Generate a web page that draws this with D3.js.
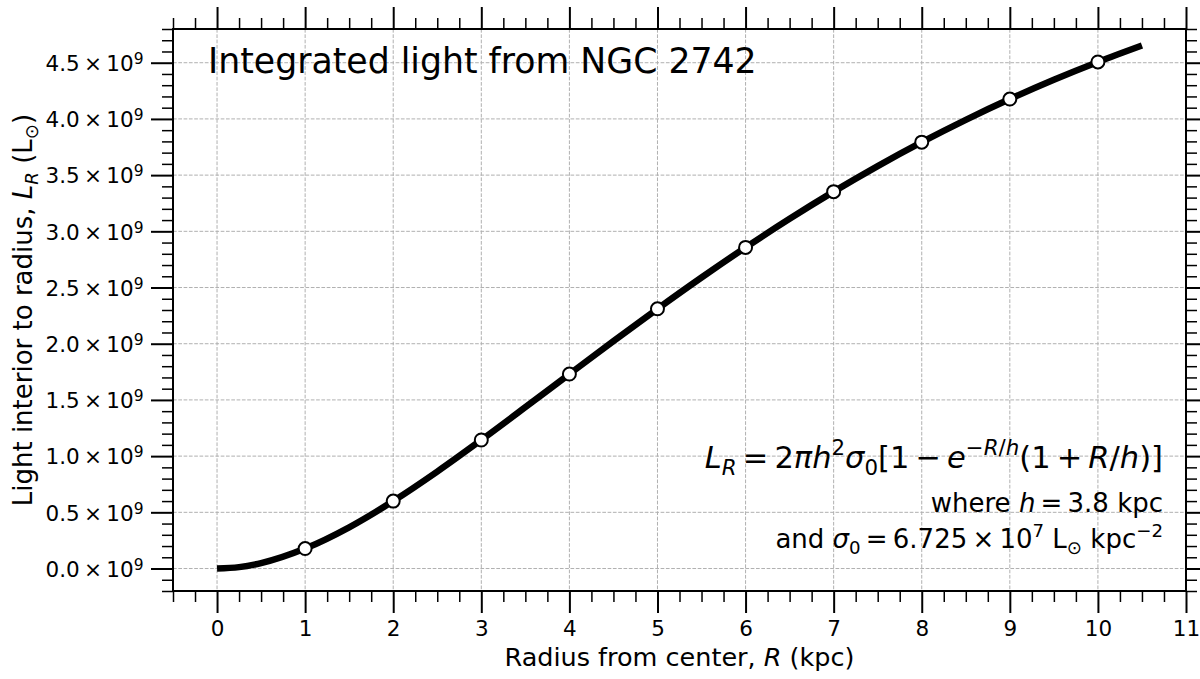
<!DOCTYPE html>
<html>
<head>
<meta charset="utf-8">
<script src="https://cdn.jsdelivr.net/npm/d3@7"></script>
<style>
  body { margin: 0; background: #fff; }
  text { font-family: "DejaVu Sans", sans-serif; }
</style>
</head>
<body>
<svg id="chart" width="1200" height="679"></svg>
<script>
// values (kpc, solar luminosities)
const radius = [0, 0.25, 0.5, 1, 1.5, 2, 2.5, 3, 3.5, 4, 4.5, 5, 5.5, 6, 6.5, 7, 7.5, 8, 8.5, 9, 9.5, 10, 10.5];
const light = [0, 0.0126e9, 0.0484e9, 0.1776e9, 0.3667e9, 0.5997e9, 0.8621e9, 1.1435e9, 1.4351e9, 1.7302e9,
  2.0234e9, 2.3108e9, 2.5892e9, 2.8567e9, 3.1115e9, 3.3529e9, 3.5802e9, 3.7932e9, 3.992e9,
  4.1769e9, 4.3485e9, 4.5068e9, 4.6528e9];

// open circles at whole kpc
const markRadius = [1, 2, 3, 4, 5, 6, 7, 8, 9, 10];
const markLight = [0.1776e9, 0.5997e9, 1.1435e9, 1.7302e9, 2.3108e9, 2.8567e9, 3.3529e9, 3.7932e9, 4.1769e9, 4.5068e9];

const xTicks = [0, 1, 2, 3, 4, 5, 6, 7, 8, 9, 10, 11];
const yTicks = [0, 0.5e9, 1e9, 1.5e9, 2e9, 2.5e9, 3e9, 3.5e9, 4e9, 4.5e9];

const m = { left: 173, right: 1186, top: 29, bottom: 591 };

const svg = d3.select("#chart");

const x = d3.scaleLinear().domain([-0.5, 11]).range([m.left, m.right]);
const y = d3.scaleLinear().domain([-0.2e9, 4.8e9]).range([m.bottom, m.top]);

const xMinor = d3.range(-0.5, 11.001, 0.25).filter((v) => Math.abs(v - Math.round(v)) > 0.01);
const yMinor = d3.range(-2, 48.01, 1).filter((v) => v % 5 !== 0).map((v) => v * 1e8);

// grid
const grid = svg.append("g").attr("stroke", "#b0b0b0").attr("stroke-width", 1).attr("stroke-dasharray", "3.7,1.6");
grid.selectAll(".gx").data(xTicks).join("line")
  .attr("x1", (d) => x(d)).attr("x2", (d) => x(d))
  .attr("y1", m.top).attr("y2", m.bottom);
grid.selectAll(".gy").data(yTicks).join("line")
  .attr("x1", m.left).attr("x2", m.right)
  .attr("y1", (d) => y(d)).attr("y2", (d) => y(d));

function styleAxis(g, w) {
  g.select(".domain").remove();
  g.selectAll(".tick line").attr("stroke", "#000").attr("stroke-width", w);
  g.selectAll("text").attr("fill", "#000");
}

// minor ticks on all four sides
[[d3.axisBottom(x), `translate(0,${m.bottom})`, xMinor],
 [d3.axisTop(x), `translate(0,${m.top})`, xMinor],
 [d3.axisLeft(y), `translate(${m.left},0)`, yMinor],
 [d3.axisRight(y), `translate(${m.right},0)`, yMinor]].forEach(([ax, tr, vals]) => {
  svg.append("g").attr("transform", tr)
    .call(ax.tickValues(vals).tickSize(11).tickFormat(""))
    .call((g) => styleAxis(g, 1.5));
});

// major ticks
svg.append("g").attr("transform", `translate(0,${m.bottom})`)
  .call(d3.axisBottom(x).tickValues(xTicks).tickSize(22).tickPadding(8).tickFormat(d3.format("d")))
  .call((g) => styleAxis(g, 2))
  .call((g) => g.selectAll("text").attr("font-size", 21.5));
svg.append("g").attr("transform", `translate(0,${m.top})`)
  .call(d3.axisTop(x).tickValues(xTicks).tickSize(22).tickFormat(""))
  .call((g) => styleAxis(g, 2));
svg.append("g").attr("transform", `translate(${m.right},0)`)
  .call(d3.axisRight(y).tickValues(yTicks).tickSize(22).tickFormat(""))
  .call((g) => styleAxis(g, 2));

const yAxis = svg.append("g").attr("transform", `translate(${m.left},0)`)
  .call(d3.axisLeft(y).tickValues(yTicks).tickSize(22).tickPadding(7.5).tickFormat(""))
  .call((g) => styleAxis(g, 2));
yAxis.selectAll(".tick text").each(function (d) {
  const t = d3.select(this).attr("font-size", 21.5).attr("dy", "0.36em");
  t.append("tspan").text(d3.format(".1f")(d / 1e9) + "\u2009×\u200910");
  t.append("tspan").attr("dy", "-0.45em").attr("font-size", "72%").text("9");
});

// frame
svg.append("rect")
  .attr("x", m.left).attr("y", m.top)
  .attr("width", m.right - m.left).attr("height", m.bottom - m.top)
  .attr("fill", "none").attr("stroke", "#000").attr("stroke-width", 2);

// curve
const line = d3.line().x((d, i) => x(radius[i])).y((d) => y(d)).curve(d3.curveMonotoneX);
svg.append("path")
  .datum(light)
  .attr("d", line)
  .attr("fill", "none")
  .attr("stroke", "#000")
  .attr("stroke-width", 6.5);

svg.append("g").selectAll("circle")
  .data(markLight)
  .join("circle")
  .attr("cx", (d, i) => x(markRadius[i]))
  .attr("cy", (d) => y(d))
  .attr("r", 6.5)
  .attr("fill", "#fff")
  .attr("stroke", "#000")
  .attr("stroke-width", 2);

// text with math-like sub/superscripts
function rich(t, fs, parts) {
  let cur = 0;
  parts.forEach(([s, o = {}]) => {
    const target = o.sub ? 0.22 * fs : o.sup ? -0.42 * fs : 0;
    const sp = t.append("tspan").attr("dy", target - cur).text(s);
    cur = target;
    if (o.sub || o.sup) sp.attr("font-size", fs * 0.7);
    if (o.i) sp.attr("font-style", "italic");
  });
  return t;
}

svg.append("text")
  .attr("x", 208).attr("y", 73)
  .attr("font-size", 34.7)
  .text("Integrated light from NGC 2742");

rich(svg.append("text").attr("x", (m.left + m.right) / 2).attr("y", 666)
  .attr("text-anchor", "middle").attr("font-size", 25.5), 25.5, [
  ["Radius from center, "], ["R", { i: true }], [" (kpc)"]
]);

rich(svg.append("text")
  .attr("transform", `translate(32,${(m.top + m.bottom) / 2}) rotate(-90)`)
  .attr("text-anchor", "middle").attr("font-size", 26), 26, [
  ["Light interior to radius, "], ["L", { i: true }], ["R", { i: true, sub: true }],
  [" (L"], ["\u2299", { sub: true }], [")"]
]);

const fx = 1163;
rich(svg.append("text").attr("x", fx).attr("y", 468).attr("text-anchor", "end").attr("font-size", 30.5), 30.5, [
  ["L", { i: true }], ["R", { i: true, sub: true }], ["\u2009=\u20092"], ["πh", { i: true }], ["2", { sup: true }],
  ["σ", { i: true }], ["0", { sub: true }], ["[1\u2009−\u2009"], ["e", { i: true }],
  ["−", { sup: true }], ["R", { sup: true, i: true }], ["/", { sup: true }], ["h", { sup: true, i: true }],
  ["(1\u2009+\u2009"], ["R", { i: true }], ["/"], ["h", { i: true }], [")]"]
]);
rich(svg.append("text").attr("x", fx).attr("y", 512).attr("text-anchor", "end").attr("font-size", 26), 26, [
  ["where "], ["h", { i: true }], ["\u2009=\u20093.8 kpc"]
]);
rich(svg.append("text").attr("x", fx).attr("y", 548).attr("text-anchor", "end").attr("font-size", 26), 26, [
  ["and "], ["σ", { i: true }], ["0", { sub: true }], ["\u2009=\u20096.725\u2009×\u200910"], ["7", { sup: true }],
  [" L"], ["\u2299", { sub: true }], [" kpc"], ["−2", { sup: true }]
]);
</script>
</body>
</html>
